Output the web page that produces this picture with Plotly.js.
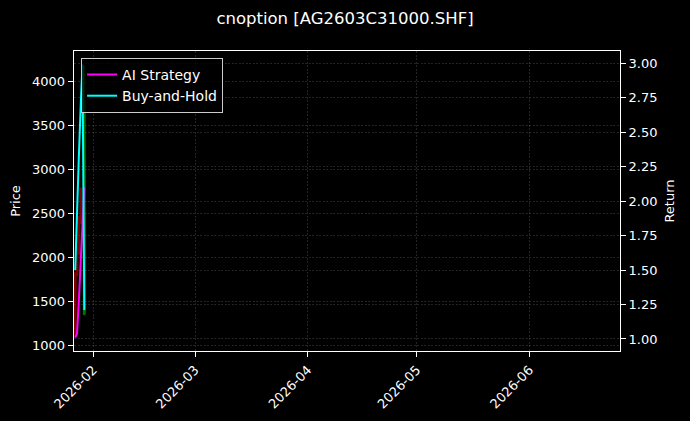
<!DOCTYPE html>
<html>
<head>
<meta charset="utf-8">
<script src="https://cdn.plot.ly/plotly-3.0.1.min.js"></script>
<style>
  html, body { margin: 0; padding: 0; background: #000; }
  #plot { width: 690px; height: 421px; }
</style>
</head>
<body>
<div id="plot"></div>
<script>
// 1. Datos
const candleTimes = ['2026-01-27 00:00', '2026-01-27 12:00', '2026-01-28 00:00', '2026-01-28 12:00', '2026-01-29 12:00'];
const priceOpen  = [1818, 2100, 2450, 2780, 1360];
const priceHigh  = [1830, 2120, 2470, 2800, 4190];
const priceLow   = [1100, 1780, 2030, 2380, 1340];
const priceClose = [1150, 1800, 2050, 2400, 3790];

const returnTimes = ['2026-01-27 00:00', '2026-01-27 12:00', '2026-01-28 00:00', '2026-01-28 12:00', '2026-01-29 00:00', '2026-01-29 12:00'];
const aiReturn = [1.01, 1.04, 1.28, 1.52, 1.77, 2.10];
const bhReturn = [1.50, 1.96, 2.32, 2.68, 2.99, 1.21];

const FONT = 'DejaVu Sans, sans-serif';

function initChart() {
  // 2. Trazas
  const candles = {
    type: 'candlestick',
    x: candleTimes,
    open: priceOpen,
    high: priceHigh,
    low: priceLow,
    close: priceClose,
    yaxis: 'y',
    increasing: { line: { color: 'rgb(0,190,0)', width: 2 }, fillcolor: 'rgb(0,190,0)' },
    decreasing: { line: { color: 'rgb(210,0,0)', width: 2 }, fillcolor: 'rgb(210,0,0)' },
    opacity: 0.6,
    showlegend: false,
    hoverinfo: 'skip'
  };

  const aiTrace = {
    type: 'scatter',
    mode: 'lines',
    x: returnTimes,
    y: aiReturn,
    yaxis: 'y2',
    name: 'AI Strategy',
    line: { color: '#ff00ff', width: 2 }
  };

  const bhTrace = {
    type: 'scatter',
    mode: 'lines',
    x: returnTimes,
    y: bhReturn,
    yaxis: 'y2',
    name: 'Buy-and-Hold',
    line: { color: '#00ffff', width: 2 }
  };

  const gridColor = 'rgba(128,128,128,0.45)';
  const gridDash = '2px,1.5px';

  // 3. Layout
  const layout = {
    width: 690,
    height: 421,
    paper_bgcolor: '#000000',
    plot_bgcolor: '#000000',
    font: { family: FONT, size: 13, color: '#ffffff' },
    margin: { l: 74, r: 70, t: 51, b: 70 },
    title: {
      text: 'cnoption [AG2603C31000.SHF]',
      font: { family: FONT, size: 16.5, color: '#ffffff' },
      x: 0.5, xref: 'container', xanchor: 'center',
      y: 1 - 18 / 421, yref: 'container', yanchor: 'middle'
    },
    xaxis: {
      type: 'date',
      range: ['2026-01-26 16:00', '2026-06-25 22:00'],
      dtick: 'M1',
      tick0: '2026-02-01',
      tickformat: '%Y-%m',
      tickangle: -45,
      ticks: 'outside', ticklen: 5, tickcolor: '#ffffff',
      showline: true, linecolor: '#ffffff', linewidth: 1.3, mirror: true,
      showgrid: true, gridcolor: gridColor, griddash: gridDash, gridwidth: 0.6,
      zeroline: false,
      rangeslider: { visible: false },
      tickfont: { size: 13, color: '#ffffff' }
    },
    yaxis: {
      range: [932, 4352],
      dtick: 500,
      tick0: 1000,
      ticks: 'outside', ticklen: 5, tickcolor: '#ffffff',
      showline: true, linecolor: '#ffffff', linewidth: 1.3, mirror: true,
      showgrid: true, gridcolor: gridColor, griddash: gridDash, gridwidth: 0.6,
      zeroline: false,
      title: { text: 'Price', font: { size: 13, color: '#ffffff' }, standoff: 8 },
      tickfont: { size: 13, color: '#ffffff' }
    },
    yaxis2: {
      overlaying: 'y',
      side: 'right',
      range: [0.913, 3.087],
      dtick: 0.25,
      tick0: 1,
      tickformat: '.2f',
      ticks: 'outside', ticklen: 5, tickcolor: '#ffffff',
      showline: false,
      showgrid: true, gridcolor: gridColor, griddash: gridDash, gridwidth: 0.6,
      zeroline: false,
      title: { text: 'Return', font: { size: 13, color: '#ffffff' }, standoff: 8 },
      tickfont: { size: 13, color: '#ffffff' }
    },
    legend: {
      x: 0.013, y: 0.977,
      xanchor: 'left', yanchor: 'top',
      bgcolor: 'rgba(0,0,0,0.8)',
      bordercolor: '#cccccc',
      borderwidth: 1,
      font: { size: 14, color: '#ffffff' },
      tracegroupgap: 0
    },
    showlegend: true
  };

  Plotly.newPlot('plot', [candles, aiTrace, bhTrace], layout, { staticPlot: true, displayModeBar: false });
}

if (document.readyState !== 'loading') {
  initChart();
} else {
  document.addEventListener('DOMContentLoaded', initChart);
}
</script>
</body>
</html>
